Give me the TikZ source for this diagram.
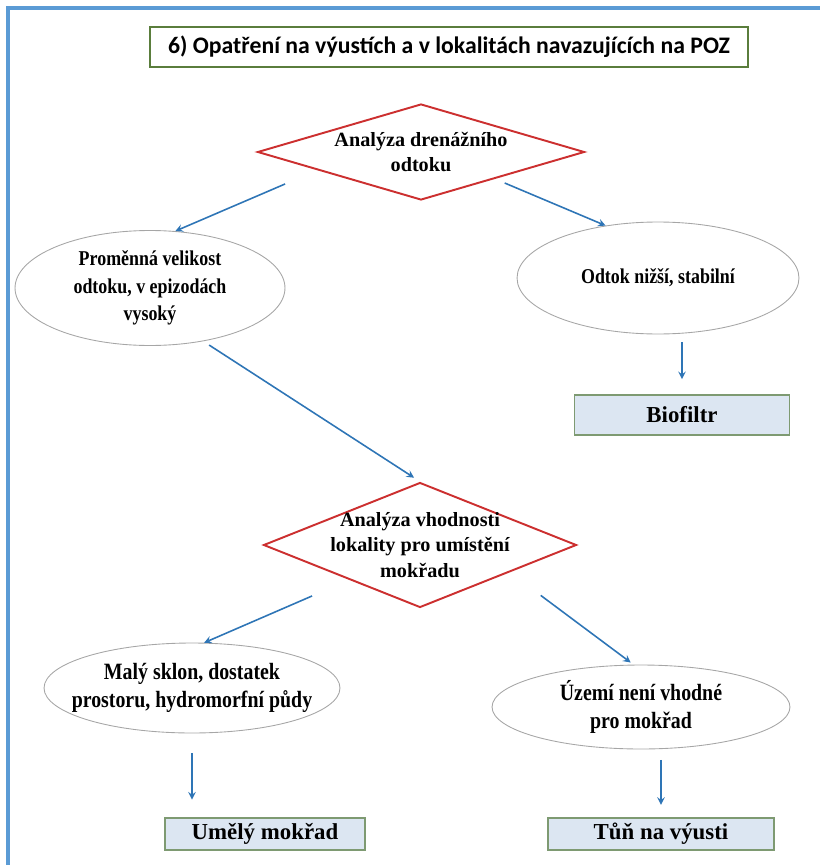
\documentclass[tikz,border=0pt]{standalone}
\usepackage{fontspec}
\setmainfont{Liberation Serif}
\newfontfamily\titlefont{Carlito}
\newfontfamily\narrowfont[FakeStretch=0.85]{Liberation Serif}
\usetikzlibrary{shapes.geometric, arrows, positioning, calc}
\definecolor{framblue}{HTML}{5B9BD5}
\definecolor{titlegreen}{HTML}{5A7D3C}
\definecolor{decred}{HTML}{CC2F2F}
\definecolor{arrblue}{HTML}{2E75B6}
\definecolor{boxfill}{HTML}{DCE6F2}
\definecolor{boxedge}{HTML}{7E9A72}

\tikzset{
    decision/.style={draw=decred, line width=1.1pt, diamond, inner xsep=-1.5cm, inner ysep=-0.3cm, align=center, font=\bfseries\fontsize{11.5}{14.5}\selectfont},
    branch/.style={draw=gray!70, line width=0.5pt, ellipse, inner xsep=-0.6cm, inner ysep=0pt, align=center, font=\narrowfont\bfseries\fontsize{12}{15.5}\selectfont},
    result/.style={draw=boxedge, fill=boxfill, line width=1pt, rectangle, inner sep=1pt, font=\bfseries\fontsize{13}{15}\selectfont},
    arr/.style={->, >=stealth, draw=arrblue, line width=0.9pt}
}

\begin{document}
\begin{tikzpicture}[x=0.02cm, y=-0.02cm]
    \useasboundingbox (0,0) rectangle (819,865);
    % outer frame
    \draw[framblue, line width=1.8pt] (8,880) -- (8,8) -- (830,8);

    \node[draw=titlegreen, line width=1.2pt, minimum width=11.96cm, minimum height=0.8cm, font=\titlefont\bfseries\fontsize{13.5}{16}\selectfont] (title) at (449,47) {6) Opatření na výustích a v lokalitách navazujících na POZ};

    % first decision
    \node[decision, minimum width=6.54cm, minimum height=1.92cm] (d1) at (421,152) {Analýza drenážního\\odtoku};
    \node[branch, minimum width=5.4cm, minimum height=2.3cm] (e1) at (150,288) {Proměnná velikost\\odtoku, v epizodách\\vysoký};
    \node[branch, minimum width=5.64cm, minimum height=2.24cm] (e2) at (658,278) {Odtok nižší, stabilní};
    \node[result, minimum width=4.3cm, minimum height=0.8cm] (bio) at (682,415) {Biofiltr};

    % second decision
    \node[decision, minimum width=6.26cm, minimum height=2.5cm] (d2) at (420,545) {Analýza vhodnosti\\lokality pro umístění\\mokřadu};
    \node[branch, minimum width=5.92cm, minimum height=1.8cm, font=\narrowfont\bfseries\fontsize{13.3}{15.5}\selectfont] (e3) at (192,688) {Malý sklon, dostatek\\prostoru, hydromorfní půdy};
    \node[branch, minimum width=5.96cm, minimum height=1.68cm, font=\narrowfont\bfseries\fontsize{13.3}{15.5}\selectfont] (e4) at (641,707) {Území není vhodné\\pro mokřad};
    \node[result, minimum width=4cm, minimum height=0.64cm] (umely) at (265,834) {Umělý mokřad};
    \node[result, minimum width=4.52cm, minimum height=0.64cm] (tun) at (661,834) {Tůň na výusti};

    % connectors
    \draw[arr, shorten <=20pt] ($(d1.west)!0.37!(d1.south)$) -- (e1.66);
    \draw[arr, shorten <=6pt] ($(d1.south)!0.45!(d1.east)$) -- (e2.135);
    \draw[arr, shorten <=4.5pt, shorten >=8.5pt] (e2.south -| bio) -- (bio);
    \draw[arr, shorten <=4pt, shorten >=4pt] (e1.-45) -- (d2.north);
    \draw[arr, shorten <=23pt] ($(d2.west)!0.55!(d2.south)$) -- (e3.75);
    \draw[arr, shorten <=22pt, shorten >=2pt] ($(d2.south)!0.57!(d2.east)$) -- (e4.100);
    \draw[arr, shorten <=11pt, shorten >=10pt] (e3.south) -- (e3.south |- umely.north);
    \draw[arr, shorten <=6pt, shorten >=7pt] (e4.south -| tun) -- (tun);
\end{tikzpicture}
\end{document}
